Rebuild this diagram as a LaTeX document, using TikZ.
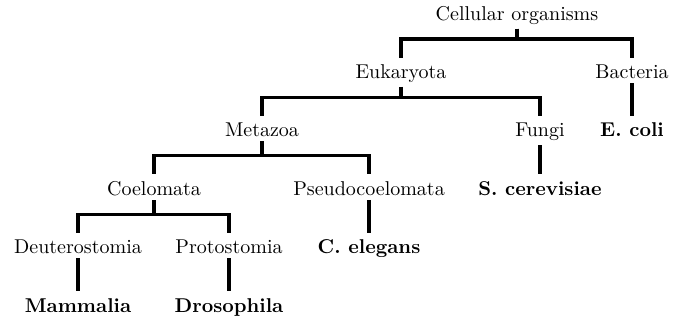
\documentclass[tikz,border=0pt]{standalone}
\usetikzlibrary{positioning}

\begin{document}
\begin{tikzpicture}[x=1pt,y=1pt,
  taxon/.style={anchor=base,inner xsep=1pt,inner ysep=2pt,text height=8.2pt},
  species/.style={taxon,font=\bfseries},
  branch/.style={line width=1.6pt}]
  \useasboundingbox (0,0) rectangle (345,-161);
  \node[taxon] (cell) at (258.5,-10) {Cellular organisms};
  \node[taxon] (euk) at (200.5,-39.2) {Eukaryota};
  \node[taxon] (bact) at (316,-39.2) {Bacteria};
  \node[taxon] (meta) at (131,-68.4) {Metazoa};
  \node[taxon] (fungi) at (270,-68.4) {Fungi};
  \node[species] (ecoli) at (316,-68.4) {E. coli};
  \node[taxon] (coel) at (77,-97.6) {Coelomata};
  \node[taxon] (pseudo) at (184.5,-97.6) {Pseudocoelomata};
  \node[species] (scer) at (270,-97.6) {S. cerevisiae};
  \node[taxon] (deut) at (39,-126.8) {Deuterostomia};
  \node[taxon] (proto) at (114.5,-126.8) {Protostomia};
  \node[species] (celeg) at (184.5,-126.8) {C. elegans};
  \node[species] (mamm) at (39,-156) {Mammalia};
  \node[species] (droso) at (114.5,-156) {Drosophila};
  % right-angled branches
  \foreach \p/\c in {cell/euk,cell/bact,euk/meta,euk/fungi,bact/ecoli,
      meta/coel,meta/pseudo,fungi/scer,coel/deut,coel/proto,pseudo/celeg,
      deut/mamm,proto/droso}
    \draw[branch] (\p.south) -- ([yshift=-9.5pt]\p.base) -| (\c.north);
\end{tikzpicture}
\end{document}
